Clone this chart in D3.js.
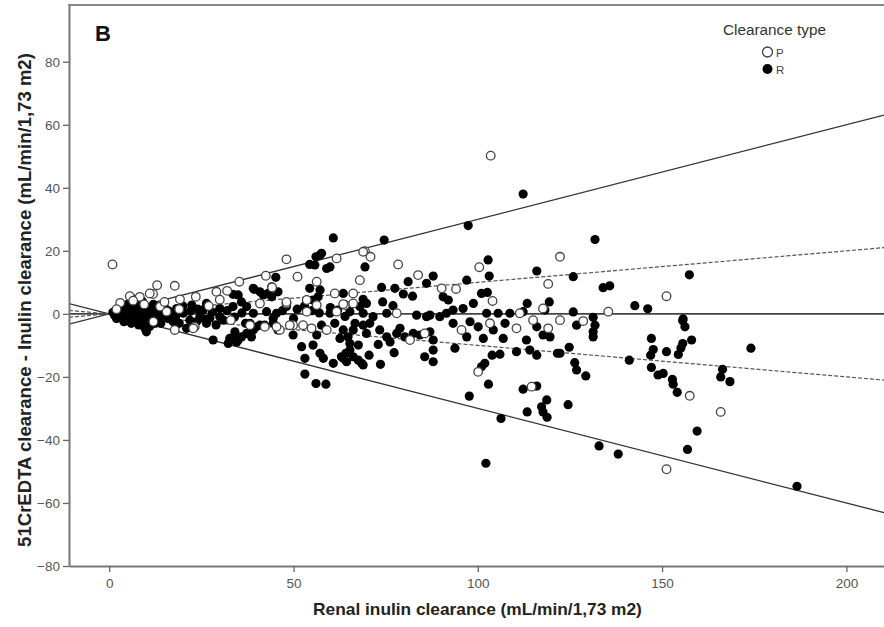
<!DOCTYPE html>
<html><head><meta charset="utf-8">
<script src="https://cdn.jsdelivr.net/npm/d3@7"></script>
<style>body{margin:0;background:#fff}svg{display:block;font-family:"Liberation Sans",Arial,sans-serif}</style>
</head><body><svg id="c" width="884" height="627"></svg>
<script>
const categories = ["P", "R"];
const xTicks = [0, 50, 100, 150, 200];
const yTicks = [-80, -60, -40, -20, 0, 20, 40, 60, 80];
const limitSlopes = [0.3, -0.3];
const innerSlopes = [0.1, -0.1];
const xTitle = "Renal inulin clearance (mL/min/1,73 m2)";
const yTitle = "51CrEDTA clearance - Inulin clearance (mL/min/1,73 m2)";

const openPoints = [
[0.9,15.7],[48.1,17.3],[51.1,11.8],[42.5,12.1],[35.3,10.2],[13.0,9.1],[17.8,8.9],[44.2,8.4],[29.1,7.0],[32.0,7.3],
[23.5,5.4],[19.2,4.6],[56.3,10.2],[48.1,3.3],[11.9,6.3],[8.3,5.4],[5.6,5.6],[11.0,6.5],[17.8,-5.1],[23.2,-4.1],
[38.2,-3.6],[42.2,-4.1],[46.3,-5.1],[49.9,-3.6],[40.9,3.3],[48.1,3.8],[53.6,4.4],[53.6,0.7],[56.3,2.8],[59.0,-5.1],
[61.7,0.7],[64.0,2.8],[66.2,6.5],[13.8,2.3],[15.6,0.7],[22.8,-4.6],[45.4,-4.1],[49.0,-3.6],[52.6,-3.6],[54.9,-4.6],
[103.5,50.2],[69.4,19.9],[70.9,18.1],[61.7,17.6],[68.9,19.7],[78.4,15.7],[68.0,10.7],[83.8,12.3],[90.2,8.1],[94.1,7.9],
[100.4,14.8],[104.0,4.1],[61.2,6.5],[63.5,3.1],[66.2,3.3],[119.1,9.5],[117.7,1.7],[78.0,0.2],[111.4,0.2],
[122.3,18.1],[151.2,5.6],[135.4,0.7],[122.3,-2.0],[128.6,-2.3],[157.5,-26.0],[151.2,-49.3],[165.9,-31.1],
[81.6,-8.3],[85.6,-6.2],[95.6,-5.1],[103.3,-3.0],[110.5,-4.6],[115.0,-2.0],[119.1,-4.6],[100.1,-18.4],[114.6,-23.1],
[3.0,3.5],[6.5,4.2],[9.5,3.0],[2.0,1.5],[15.0,3.8],[12.0,-2.5],[19.0,1.5],[27.0,2.5],[30.0,4.5],[33.0,-2.0]
];

const filledPoints = [
[131.8,23.6],[125.9,11.8],[134.0,8.3],[135.8,8.9],[157.4,12.4],[142.6,2.6],[146.1,1.6],[125.9,0.6],[131.3,-1.1],[155.7,-1.6],
[126.8,-3.6],[131.8,-3.6],[131.3,-5.7],[131.3,-7.3],[124.8,-10.6],[122.3,-12.5],[126.3,-15.5],[126.8,-17.8],[129.3,-19.7],[124.5,-28.8],
[132.9,-41.9],[138.1,-44.5],[141.1,-14.7],[147.1,-7.8],[147.6,-11.3],[146.9,-13.1],[147.1,-17.0],[148.9,-19.4],[150.3,-18.9],[151.2,-12.0],
[152.8,-20.8],[153.0,-22.3],[154.1,-24.9],[154.4,-12.9],[155.6,-2.2],[156.2,-4.1],[155.6,-9.4],[155.1,-10.8],[158.0,-8.3],[159.5,-37.2],
[156.9,-43.0],[166.4,-17.6],[165.9,-20.0],[168.4,-21.5],[174.1,-10.9],[186.6,-54.7],
[60.8,-15.7],[64.2,-12.5],[63.5,-14.1],[67.6,-14.7],[68.5,-15.7],[70.5,-13.1],[73.6,-16.0],[73.0,-9.7],[77.3,-12.3],[85.6,-13.6],
[87.9,-15.2],[87.9,-11.5],[93.8,-10.9],[97.7,-26.1],[102.9,-22.3],[101.9,-15.7],[101.0,-16.8],[103.9,-13.1],[106.3,-33.2],[102.2,-47.4],
[112.3,-23.9],[116.0,-22.9],[113.4,-31.1],[118.7,-27.3],[117.3,-29.5],[117.7,-31.1],[118.8,-32.8],[121.6,-12.5],[114.1,-11.5],[116.0,-13.1],
[110.5,-12.0],[106.0,-12.8],
[61.2,-3.0],[63.5,-5.1],[62.6,-7.8],[64.8,-7.3],[65.3,-9.4],[66.2,-5.1],[66.7,-3.0],[68.9,-3.6],[69.8,-6.2],[70.7,-3.0],
[71.6,-0.9],[73.4,-5.1],[75.3,-7.3],[76.2,-8.9],[78.0,-6.2],[78.9,-4.6],[80.2,-7.3],[82.5,-6.2],[84.3,-6.7],[87.0,-5.7],
[87.9,-8.3],[89.7,-0.9],[91.5,0.2],[93.3,-3.0],[97.0,-7.3],[97.9,-2.5],[100.1,-4.1],[101.5,-7.8],[104.2,-5.1],[106.9,-7.8],
[107.4,-3.0],[113.2,-8.3],[116.0,-4.1],[117.7,-6.7],[119.6,-7.3],[108.7,0.2],[112.3,0.7],[75.3,0.2],[83.4,-0.4],[86.1,-0.9],[102.4,0.2],
[112.3,38.0],[97.4,28.0],[74.6,23.4],[60.8,24.1],[69.4,14.9],[59.9,14.9],[87.9,12.0],[81.1,10.2],[86.1,9.7],[73.9,8.4],
[77.5,8.1],[79.8,6.3],[82.3,5.6],[97.0,10.7],[102.8,17.1],[103.1,12.0],[101.0,6.5],[102.6,6.8],[90.6,5.4],[92.0,4.4],
[63.5,6.5],[68.9,4.6],[69.8,3.3],[68.0,2.3],[74.2,3.8],[77.0,2.6],[116.0,13.6],[119.4,3.8],[113.4,3.3],[96.0,1.7],
[98.8,3.3],[87.0,-0.4],[93.3,1.2],[105.5,0.2],[59.9,0.2],[65.3,0.7],[68.9,0.2],[118.2,1.2],[68.9,-16.2],
[57.2,18.7],[56.1,18.1],[54.4,15.7],[59.0,14.4],[45.2,11.6],[39.3,7.8],[33.6,6.2],[35.0,6.0],[41.8,6.0],[44.1,5.4],
[54.4,8.1],[57.2,7.6],[56.7,5.4],[55.3,4.4],[55.8,15.5],[57.6,19.2],
[6.1,4.9],[7.9,4.4],[9.2,3.3],[10.1,-5.7],[9.7,-4.6],[5.6,-2.0],[21.0,-4.6],[23.7,-2.5],[28.2,-8.3],[32.7,-7.8],
[34.1,-6.7],[35.0,-8.3],[35.9,-7.3],[39.1,-5.1],[40.9,-3.6],[44.5,-1.4],[45.8,-5.1],[49.9,-6.7],[52.2,-10.4],[53.1,-14.1],
[55.3,-9.9],[57.2,-12.5],[58.1,-14.1],[63.0,-13.6],[64.4,-15.2],[65.3,-11.5],[66.2,-13.6],[67.6,-9.9],
[39.1,8.1],[40.9,7.0],[43.1,6.5],[45.8,7.0],[44.1,8.6],[26.4,3.3],[30.0,1.7],[33.6,2.3],[35.9,3.8],[37.3,2.3],
[39.1,0.2],[42.7,0.7],[45.4,0.2],[48.1,2.3],[13.8,-0.9],[17.4,-2.5],[20.1,0.2],[21.9,-2.0],[24.6,-0.9],[18.3,1.7],
[25.5,1.2],[22.4,2.8],[32.3,-9.4],[34.6,-8.9],[34.1,-5.7],[37.3,-6.2],[38.6,-7.3],[53.1,-19.1],[56.1,-22.1],[58.8,-22.3],
[56.3,-6.7],[26.4,-3.0],[27.3,-1.4],[30.0,-0.9],[38.2,-3.0],[39.9,-4.1],[42.2,-3.6],[44.5,-3.0],[57.6,-3.6],
[51.0,1.5],[53.0,2.5],[55.0,1.0],[57.0,0.3],[60.0,2.0],[62.0,1.2],[64.0,-0.8],[47.0,1.0],[50.0,-1.5],
[1.0,0.5],[1.5,-0.5],[2.0,0.2],[2.5,1.0],[3.0,-0.3],[3.5,-1.0],[4.0,1.5],[4.5,0.5],[5.0,-1.5],[5.5,2.0],
[6.0,0.0],[6.5,-0.8],[7.0,1.2],[7.5,-2.0],[8.0,0.5],[8.5,2.5],[9.0,-1.0],[9.5,1.0],[10.0,-2.5],[10.5,0.0],
[11.0,2.0],[11.5,-1.2],[12.0,0.8],[12.5,-3.0],[13.0,1.5],[14.0,-0.5],[15.0,2.0],[16.0,-1.5],[17.0,0.5],[3.0,2.5],
[5.0,3.0],[7.0,3.5],[9.0,4.0],[4.0,-2.5],[6.0,-3.0],[8.0,-3.5],[11.0,-4.0],[14.0,-3.0],[16.0,1.0],[18.0,-1.0],
[19.0,-3.0],[20.0,2.5],[22.0,0.8],[24.0,1.5],[26.0,-1.8],[28.0,0.5],[29.0,-3.5],[31.0,-2.0],[32.0,1.0],[34.0,-1.0],
[36.0,0.3],[37.0,-3.0],[12.0,3.0],[6.0,1.5],[2.0,-1.5],[4.0,0.0],[8.0,-1.5],[10.0,1.5],[13.0,-1.8],[15.0,-0.2]
];

const svg = d3.select("#c");
const L = 69, R = 884, T = 5, B = 566;
const x = d3.scaleLinear().domain([-10.9, 210.2]).range([L, R]);
const y = d3.scaleLinear().domain([-80, 98]).range([B, T]);

svg.append("defs").append("clipPath").attr("id","clip")
  .append("rect").attr("x",L).attr("y",T).attr("width",R-L).attr("height",B-T);

const plot = svg.append("g").attr("clip-path","url(#clip)");
const [x0, x1] = x.domain();

plot.append("line").attr("x1",x(x0)).attr("x2",x(x1)).attr("y1",y(0)).attr("y2",y(0))
  .attr("stroke","#444").attr("stroke-width",1.6);
limitSlopes.forEach(s => {
  plot.append("line").attr("x1",x(x0)).attr("y1",y(s*x0)).attr("x2",x(x1)).attr("y2",y(s*x1))
    .attr("stroke","#333").attr("stroke-width",1.3);
});
innerSlopes.forEach(s => {
  plot.append("line").attr("x1",x(x0)).attr("y1",y(s*x0)).attr("x2",x(x1)).attr("y2",y(s*x1))
    .attr("stroke","#555").attr("stroke-width",1.2).attr("stroke-dasharray","4,2");
});

plot.append("g").selectAll("circle").data(filledPoints).join("circle")
  .attr("cx",d=>x(d[0])).attr("cy",d=>y(d[1])).attr("r",4.6).attr("fill","#000");
plot.append("g").selectAll("circle").data(openPoints).join("circle")
  .attr("cx",d=>x(d[0])).attr("cy",d=>y(d[1])).attr("r",4.3)
  .attr("fill","#fff").attr("stroke","#444").attr("stroke-width",1.3);

const ax = svg.append("g").attr("transform",`translate(${L},0)`)
  .call(d3.axisLeft(y).tickValues(yTicks).tickSize(6).tickSizeOuter(0).tickPadding(3));
const bx = svg.append("g").attr("transform",`translate(0,${B})`)
  .call(d3.axisBottom(x).tickValues(xTicks).tickSize(6).tickSizeOuter(0).tickPadding(6));
[ax,bx].forEach(g => {
  g.select(".domain").attr("stroke","#777").attr("stroke-width",2);
  g.selectAll(".tick line").attr("stroke","#666").attr("stroke-width",1.3);
  g.selectAll(".tick text").attr("fill","#555").style("font-size","13.5px")
    .style("font-family",'"Liberation Sans",Arial,sans-serif');
});
svg.append("line").attr("x1",L-1).attr("x2",R).attr("y1",T).attr("y2",T)
  .attr("stroke","#888").attr("stroke-width",2);

// fit a text's font size so it spans a target width
function fit(sel, target) {
  const fs = parseFloat(sel.attr("font-size"));
  const w = sel.node().getComputedTextLength();
  sel.attr("font-size", fs * target / w);
}

const xt = svg.append("text").attr("x",477.5).attr("y",615).attr("text-anchor","middle")
  .attr("font-weight","bold").attr("font-size",17).attr("fill","#222").text(xTitle);
fit(xt, 329);
const yt = svg.append("text").attr("transform","translate(31,300) rotate(-90)").attr("text-anchor","middle")
  .attr("font-weight","bold").attr("font-size",17).attr("fill","#222").text(yTitle);
fit(yt, 494);
svg.append("text").attr("x",95).attr("y",41).attr("font-weight","bold").attr("font-size",22)
  .attr("fill","#111").text("B");

const lt = svg.append("text").attr("x",774.5).attr("y",35).attr("text-anchor","middle").attr("font-size",14)
  .attr("fill","#333").text("Clearance type");
fit(lt, 103);
const leg = svg.append("g");
categories.forEach((c,i) => {
  const cy = 52 + i*17;
  leg.append("circle").attr("cx",767.5).attr("cy",cy).attr("r",5)
    .attr("fill", c==="P" ? "#fff" : "#000").attr("stroke", c==="P" ? "#444" : "none").attr("stroke-width",1.3);
  leg.append("text").attr("x",776).attr("y",cy+4.5).attr("font-size",11.5).attr("fill","#444").text(c);
});
</script></body></html>
